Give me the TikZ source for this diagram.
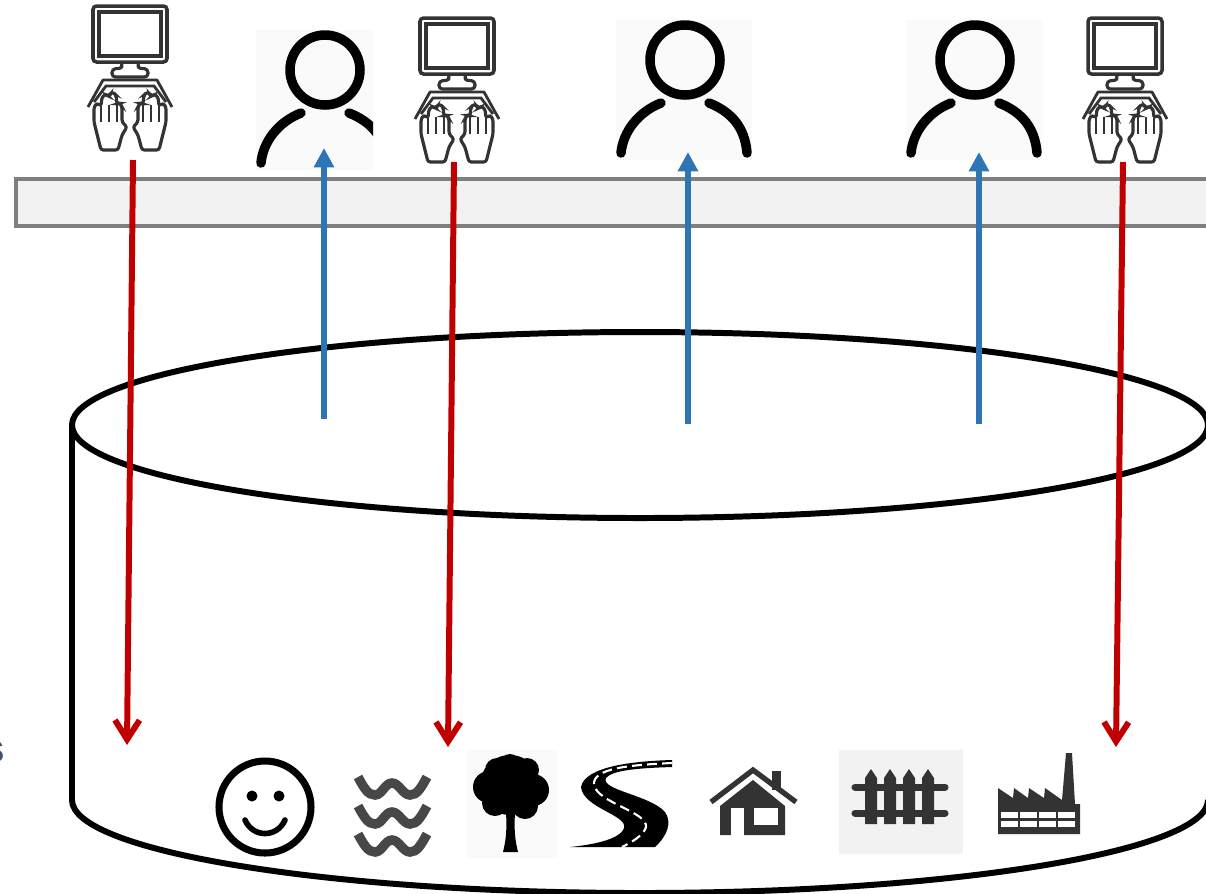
\documentclass[tikz,border=0pt]{standalone}
\usepackage{fontspec}
\setsansfont{Liberation Sans}
\usetikzlibrary{arrows.meta}
\definecolor{myred}{HTML}{C00000}
\definecolor{myblue}{HTML}{2E75B6}
\definecolor{mygray}{HTML}{7F7F7F}
\definecolor{mydark}{HTML}{333333}
\definecolor{myslate}{HTML}{44546A}
\tikzset{
  redarrow/.style={draw=myred, line width=1.7pt, -{Straight Barb[length=5.5pt, width=7pt]}},
  bluearrow/.style={draw=myblue, line width=1.7pt, -{Triangle[length=5.5pt, width=5.5pt]}},
  outline/.style={draw=black, line width=1.7pt},
  pics/userfig/.style={code={
    \fill[black!2] (-69,-40) rectangle (67,100);
    \draw[line width=2.7pt] (0,0) circle [radius=35];
    \draw[line width=2.7pt, line cap=round] (-24,43) .. controls (-47,52) and (-62,72) .. (-64,93);
    \draw[line width=2.7pt, line cap=round] (24,43) .. controls (47,52) and (60,68) .. (62,93);
  }},
  pics/typist/.style={code={
    \draw[mydark, line width=1pt, rounded corners=1pt] (-37,0) rectangle (37,56);
    \draw[mydark, line width=1.2pt] (-31,6) rectangle (31,50);
    \draw[mydark, line width=0.9pt, rounded corners=1pt] (-9,56) -- (-7,62) -- (-18,63) -- (-18,71) -- (18,71) -- (18,63) -- (7,62) -- (9,56);
    \draw[mydark, line width=0.8pt, line join=round] (-42,101) -- (-27,74) -- (27,74) -- (42,101);
    \draw[mydark, line width=0.8pt] (-36,96) -- (-24,80) -- (24,80) -- (36,96);
    \foreach \s in {-1,1} {
      \begin{scope}[xscale=\s]
        \draw[mydark, fill=white, line width=0.9pt, rounded corners=0.7pt] (-29,144) -- (-36,116) -- (-36,101) -- (-33,97) -- (-29,100) -- (-28,91) -- (-24,88) -- (-21,91) -- (-20,88) -- (-17,86) -- (-14,89) -- (-13,98) -- (-10,97) -- (-8,101) -- (-8,116) -- (-3,121) -- (-8,129) -- (-12,144) -- cycle;
        \foreach \f in {-29,-21,-13} {
          \draw[mydark, line width=0.8pt] (\f,99) -- (\f,116);
        }
      \end{scope}
    }
  }},
}
\begin{document}
\begin{tikzpicture}[x=0.01cm, y=-0.01cm]
  \useasboundingbox (0,0) rectangle (1206,893);
  % top row
  \pic at (130,6) {typist};
  \begin{scope}
    \clip (256,30) rectangle (373,170);
    \pic at (325,70) {userfig};
  \end{scope}
  \pic at (457,18) {typist};
  \pic at (685,60) {userfig};
  \pic at (975,60) {userfig};
  \pic at (1125,18) {typist};
  \draw[draw=mygray, fill=black!5, line width=1.4pt] (16,179) -- (1215,179) -- (1215,226) -- (16,226) -- cycle;
  % store
  \draw[outline] (640,425) ellipse [x radius=568, y radius=93];
  \draw[outline] (72,425) -- (72,800) .. controls (72,851) and (326,893) .. (640,893) .. controls (954,893) and (1208,851) .. (1208,800);
  % cut off word at the left
  \node[anchor=east, inner sep=0pt, text=myslate, font=\sffamily\bfseries\fontsize{11.5}{13}\selectfont] (cutword) at (6,752) {s};
  % smiley
  \draw[line width=2pt] (265,807) circle [radius=46];
  \fill (252,796) circle [radius=5.5] (279,796) circle [radius=5.5];
  \draw[line width=1.6pt, line cap=round] (245,820) .. controls (253,838) and (277,838) .. (285,820);
  % waves
  \foreach \y in {0,29,57} {
    \draw[mydark!90, line width=2.7pt, yshift=-\y*0.01cm] (358,777) .. controls (364,788) and (368,795) .. (375,795) .. controls (382,795) and (385,783) .. (392,783) .. controls (399,783) and (403,795) .. (410,795) .. controls (417,795) and (421,788) .. (427,777);
  }
  % tree
  \fill[black!2] (467,750) rectangle (558,858);
  \fill (510,785) circle [radius=30] (489,787) circle [radius=16] (533,790) circle [radius=16] (497,770) circle [radius=12] (510,765) circle [radius=11] (527,770) circle [radius=12] (495,803) circle [radius=13] (525,806) circle [radius=13];
  \fill (503,852) .. controls (506,840) and (507,830) .. (506,812) -- (515,812) .. controls (514,830) and (515,840) .. (518,852) -- cycle;
  % road
  \fill (672,760) .. controls (635,761) and (585,766) .. (581,787) .. controls (583,808) and (628,815) .. (624,828) .. controls (620,840) and (590,845) .. (570,847) -- (655,847) .. controls (668,835) and (672,822) .. (665,812) .. controls (650,795) and (600,790) .. (606,778) .. controls (612,770) and (640,768) .. (672,767) -- cycle;
  \draw[white, line width=0.6pt, dash pattern=on 2.8pt off 1.5pt] (672,763) .. controls (630,765) and (592,768) .. (594,785) .. controls (598,803) and (648,812) .. (646,827) .. controls (644,835) and (632,842) .. (622,847);
  % house
  \begin{scope}[mydark]
    \fill (772,771) rectangle (781,790);
    \draw[line width=1.5pt] (711,802) -- (753,770) -- (796,802);
    \fill (753,780) -- (720,806) -- (720,835) -- (785,835) -- (785,806) -- cycle;
    \fill[white] (731,808) rectangle (744,836);
    \fill[white] (754,808) rectangle (778,825);
  \end{scope}
  % fence
  \fill[black!5] (839,750) rectangle (963,854);
  \begin{scope}[mydark]
    \foreach \x in {871,890,909,928} {
      \fill (\x-6,824) -- (\x-6,778) -- (\x,769) -- (\x+6,778) -- (\x+6,824) -- cycle;
    }
    \draw[line width=2pt, line cap=round] (855,787) -- (945,787) (855,813) -- (945,813);
  \end{scope}
  % factory
  \fill[mydark] (998,834) -- (998,788) -- (1013,798) -- (1014,788) -- (1028,798) -- (1029,788) -- (1044,798) -- (1045,788) -- (1062,800) -- (1066,753) -- (1072,753) -- (1075,804) -- (1080,804) -- (1080,834) -- cycle;
  \foreach \x in {1001,1020,1039,1058} {
    \fill[white] (\x,812) rectangle (\x+17,818);
    \fill[white] (\x,821) rectangle (\x+17,827);
  }
  % flows
  \foreach \n/\xa/\ya/\xb/\yb in {a/133/160/127/745, b/454/162/448/747, c/1123/162/1116/747} {
    \coordinate (src\n) at (\xa,\ya);
    \coordinate (sink\n) at (\xb,\yb);
    \draw[redarrow] (src\n) -- (sink\n);
  }
  \foreach \n/\x/\ya/\yb in {a/324/419/148, b/688/424/152, c/979/424/152} {
    \coordinate (low\n) at (\x,\ya);
    \coordinate (high\n) at (\x,\yb);
    \draw[bluearrow] (low\n) -- (high\n);
  }
\end{tikzpicture}
\end{document}
